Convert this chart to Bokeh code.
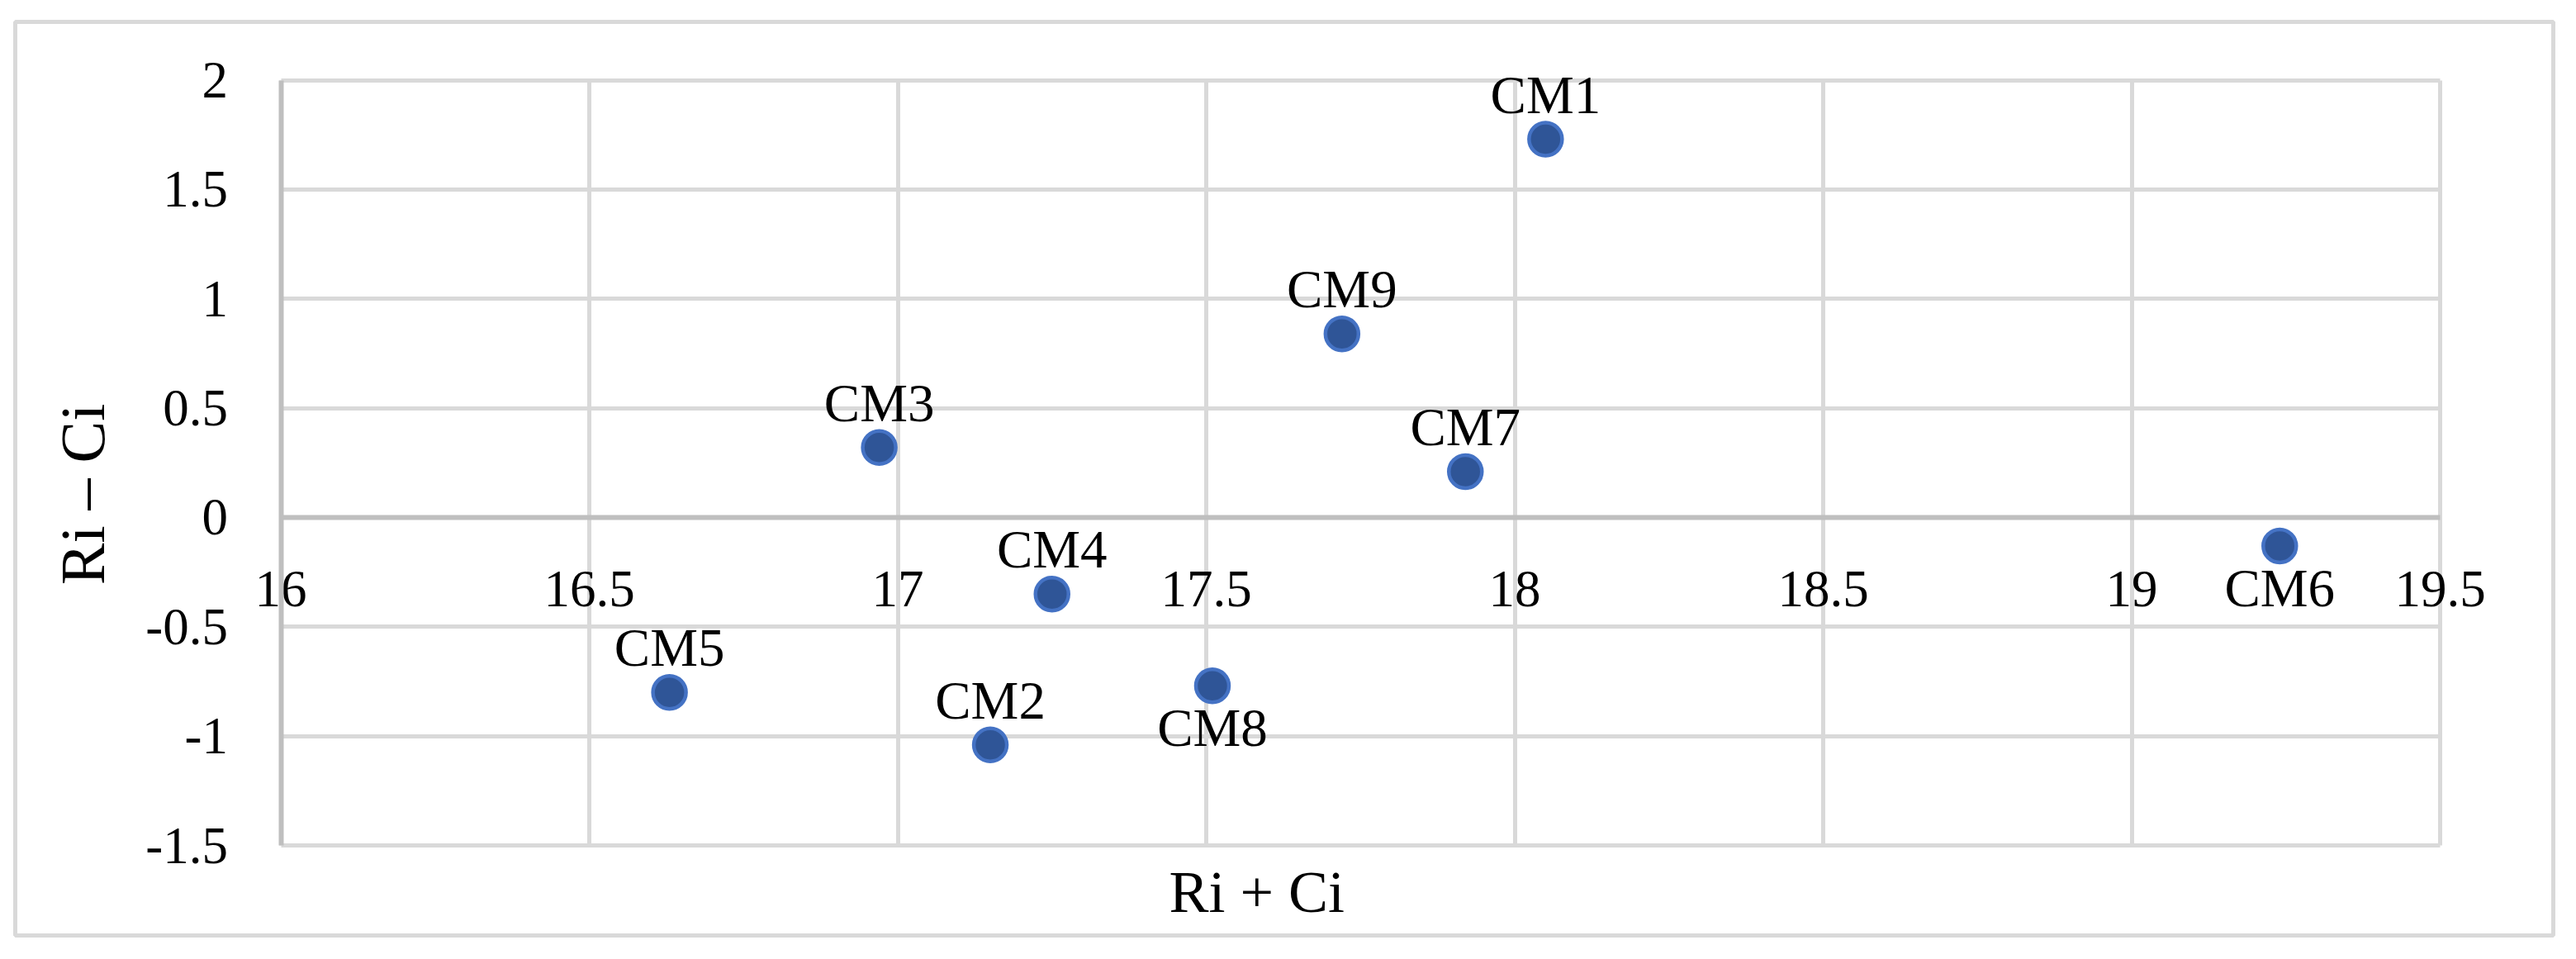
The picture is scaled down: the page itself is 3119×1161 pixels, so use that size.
from bokeh.plotting import figure
from bokeh.models import (ColumnDataSource, FixedTicker, Label, Range1d,
                          CustomJSTickFormatter)
from bokeh.core.properties import value
from bokeh.embed import file_html
from bokeh.resources import INLINE

# ---- data ----
names = ["CM1", "CM2", "CM3", "CM4", "CM5", "CM6", "CM7", "CM8", "CM9"]
ri_plus_ci = [18.05, 17.15, 16.97, 17.25, 16.63, 19.24, 17.92, 17.51, 17.72]
ri_minus_ci = [1.73, -1.04, 0.32, -0.35, -0.80, -0.13, 0.21, -0.77, 0.84]
labels_below = ["CM6", "CM8"]
x_ticks = [16, 16.5, 17, 17.5, 18, 18.5, 19, 19.5]
y_ticks = [-1.5, -1, -0.5, 0, 0.5, 1, 1.5, 2]
x_title = "Ri + Ci"
y_title = "Ri \u2013 Ci"

FONT = "Liberation Serif"
GRID = "#d9d9d9"
AXIS = "#bfbfbf"

x0, x1 = x_ticks[0], x_ticks[-1]
y0, y1 = y_ticks[0], y_ticks[-1]

# the frame covers the whole chart area; its outline is the chart border
p = figure(
    width=3111, height=1153,
    x_range=Range1d(15.5696, 19.6834), y_range=Range1d(-1.9116, 2.2667),
    output_backend="svg", toolbar_location=None,
    min_border_left=18, min_border_right=20,
    min_border_top=26, min_border_bottom=21,
)
p.outline_line_color = GRID
p.outline_line_width = 5
p.background_fill_color = "white"
p.border_fill_color = "white"

fmt = CustomJSTickFormatter(code="return tick.toString();")

# x axis crossing at y = 0
xa = p.xaxis[0]
xa.fixed_location = 0
xa.bounds = (x0, x1)
xa.ticker = FixedTicker(ticks=x_ticks)
xa.formatter = fmt
xa.axis_line_color = AXIS
xa.axis_line_width = 6
xa.major_tick_line_color = None
xa.minor_tick_line_color = None
xa.major_tick_out = 0
xa.major_tick_in = 0
xa.major_label_standoff = 66
xa.major_label_text_font = FONT
xa.major_label_text_font_size = "63px"
xa.major_label_text_color = "#000000"

# y axis at x = 16
ya = p.yaxis[0]
ya.fixed_location = x0
ya.bounds = (y0, y1)
ya.ticker = FixedTicker(ticks=y_ticks)
ya.formatter = fmt
ya.axis_line_color = AXIS
ya.axis_line_width = 6
ya.major_tick_line_color = None
ya.minor_tick_line_color = None
ya.major_tick_out = 0
ya.major_tick_in = 0
ya.major_label_standoff = 64
ya.major_label_text_font = FONT
ya.major_label_text_font_size = "63px"
ya.major_label_text_color = "#000000"

p.xgrid.ticker = FixedTicker(ticks=x_ticks)
p.xgrid.bounds = (x0, x1)
p.xgrid.cross_bounds = (y0, y1)
p.xgrid.grid_line_color = GRID
p.xgrid.grid_line_width = 5
p.ygrid.ticker = FixedTicker(ticks=y_ticks)
p.ygrid.bounds = (y0, y1)
p.ygrid.cross_bounds = (x0, x1)
p.ygrid.grid_line_color = GRID
p.ygrid.grid_line_width = 5

src = ColumnDataSource(dict(x=ri_plus_ci, y=ri_minus_ci, name=names))
p.scatter("x", "y", source=src, size=40, fill_color="#2f5597",
          line_color="#4472c4", line_width=4.5)

above_idx = [i for i, n in enumerate(names) if n not in labels_below]
below_idx = [i for i, n in enumerate(names) if n in labels_below]
src_above = ColumnDataSource(dict(x=[ri_plus_ci[i] for i in above_idx],
                                  y=[ri_minus_ci[i] for i in above_idx],
                                  name=[names[i] for i in above_idx]))
src_below = ColumnDataSource(dict(x=[ri_plus_ci[i] for i in below_idx],
                                  y=[ri_minus_ci[i] for i in below_idx],
                                  name=[names[i] for i in below_idx]))
p.text("x", "y", text="name", source=src_above, y_offset=-54,
       text_align="center", text_baseline="alphabetic",
       text_font=value(FONT), text_font_size="65px", text_color="#000000")
p.text("x", "y", text="name", source=src_below, y_offset=51,
       text_align="center", text_baseline="alphabetic",
       text_font=value(FONT), text_font_size="65px", text_color="#000000")

p.add_layout(Label(x=17.582, y=-1.715, text=x_title, text_align="center",
                   text_baseline="alphabetic", text_font=FONT,
                   text_font_size="72px", text_color="#000000"))
p.add_layout(Label(x=15.679, y=0.106, text=y_title, angle=1.5707963,
                   text_align="center", text_baseline="middle",
                   text_font=FONT, text_font_size="76px",
                   text_color="#000000"))

open("out.html", "w").write(file_html(p, INLINE))
